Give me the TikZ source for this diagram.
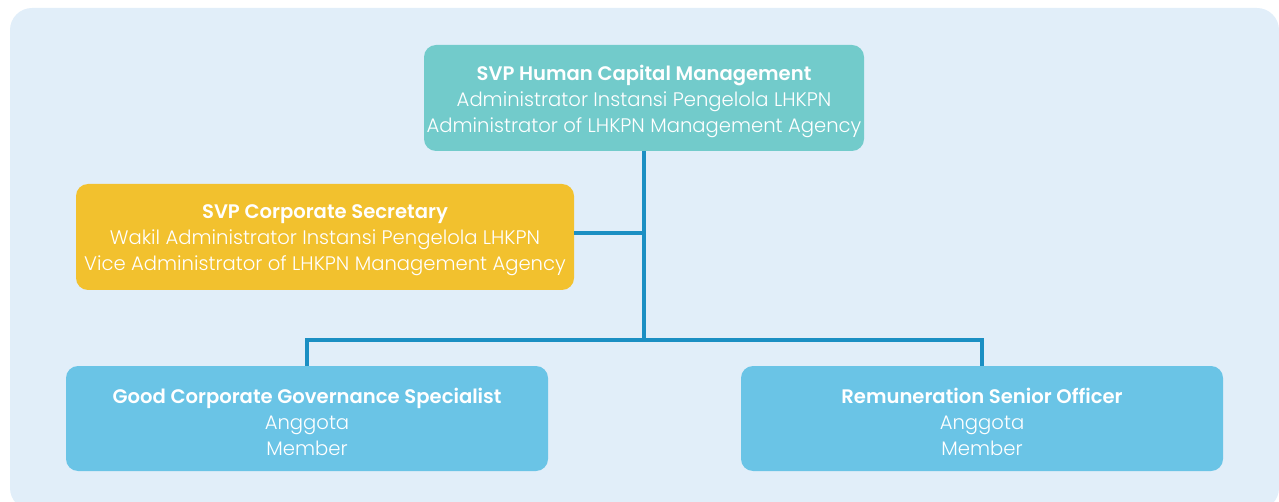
\documentclass[tikz,border=0pt]{standalone}
\usepackage{fontspec}
\setmainfont{Poppins}[UprightFont=* Light,BoldFont=* SemiBold]
\begin{document}
\begin{tikzpicture}[x=1pt,y=-1pt,
  box/.style={rounded corners=12pt,minimum height=106pt,inner sep=0pt},
  txt/.style={text=white,align=center,font=\fontsize{19.6}{26}\selectfont,inner sep=0pt},
  link/.style={draw=linec,line width=4pt}]
\definecolor{bg}{HTML}{E1EEF9}
\definecolor{teal}{HTML}{72CBCB}
\definecolor{gold}{HTML}{F2C12E}
\definecolor{sky}{HTML}{6AC4E6}
\definecolor{linec}{HTML}{1B8FC3}
\useasboundingbox (0,0) rectangle (1279,502);
\begin{scope}
\clip (0,0) rectangle (1279,502);
\fill[bg,rounded corners=22pt] (10,8) rectangle (1279,510);
\end{scope}
\node[box,fill=teal,minimum width=440pt] (top) at (644,98) {};
\node[txt] (topt) at ([yshift=-3.5pt]top.center)
  {\textbf{SVP Human Capital Management}\\Administrator Instansi Pengelola LHKPN\\Administrator of LHKPN Management Agency};
\node[box,fill=gold,minimum width=498pt] (sec) at (325,237) {};
\node[txt] (sect) at ([yshift=-3.5pt]sec.center)
  {\textbf{SVP Corporate Secretary}\\Wakil Administrator Instansi Pengelola LHKPN\\Vice Administrator of LHKPN Management Agency};
\node[box,fill=sky,minimum width=482pt,minimum height=105pt] (gcg) at (307,418.5) {};
\node[txt] (gcgt) at ([yshift=-3.5pt]gcg.center)
  {\textbf{Good Corporate Governance Specialist}\\Anggota\\Member};
\node[box,fill=sky,minimum width=482pt,minimum height=105pt] (rem) at (982,418.5) {};
\node[txt] (remt) at ([yshift=-3.5pt]rem.center)
  {\textbf{Remuneration Senior Officer}\\Anggota\\Member};
\coordinate (bus) at (644,340);
\coordinate (join) at (644,233);
\draw[link] (top.south) -- (bus);
\draw[link] (sec.east |- join) -- (join);
\draw[link] (gcg.north) |- (bus) -| (rem.north);
\end{tikzpicture}
\end{document}
